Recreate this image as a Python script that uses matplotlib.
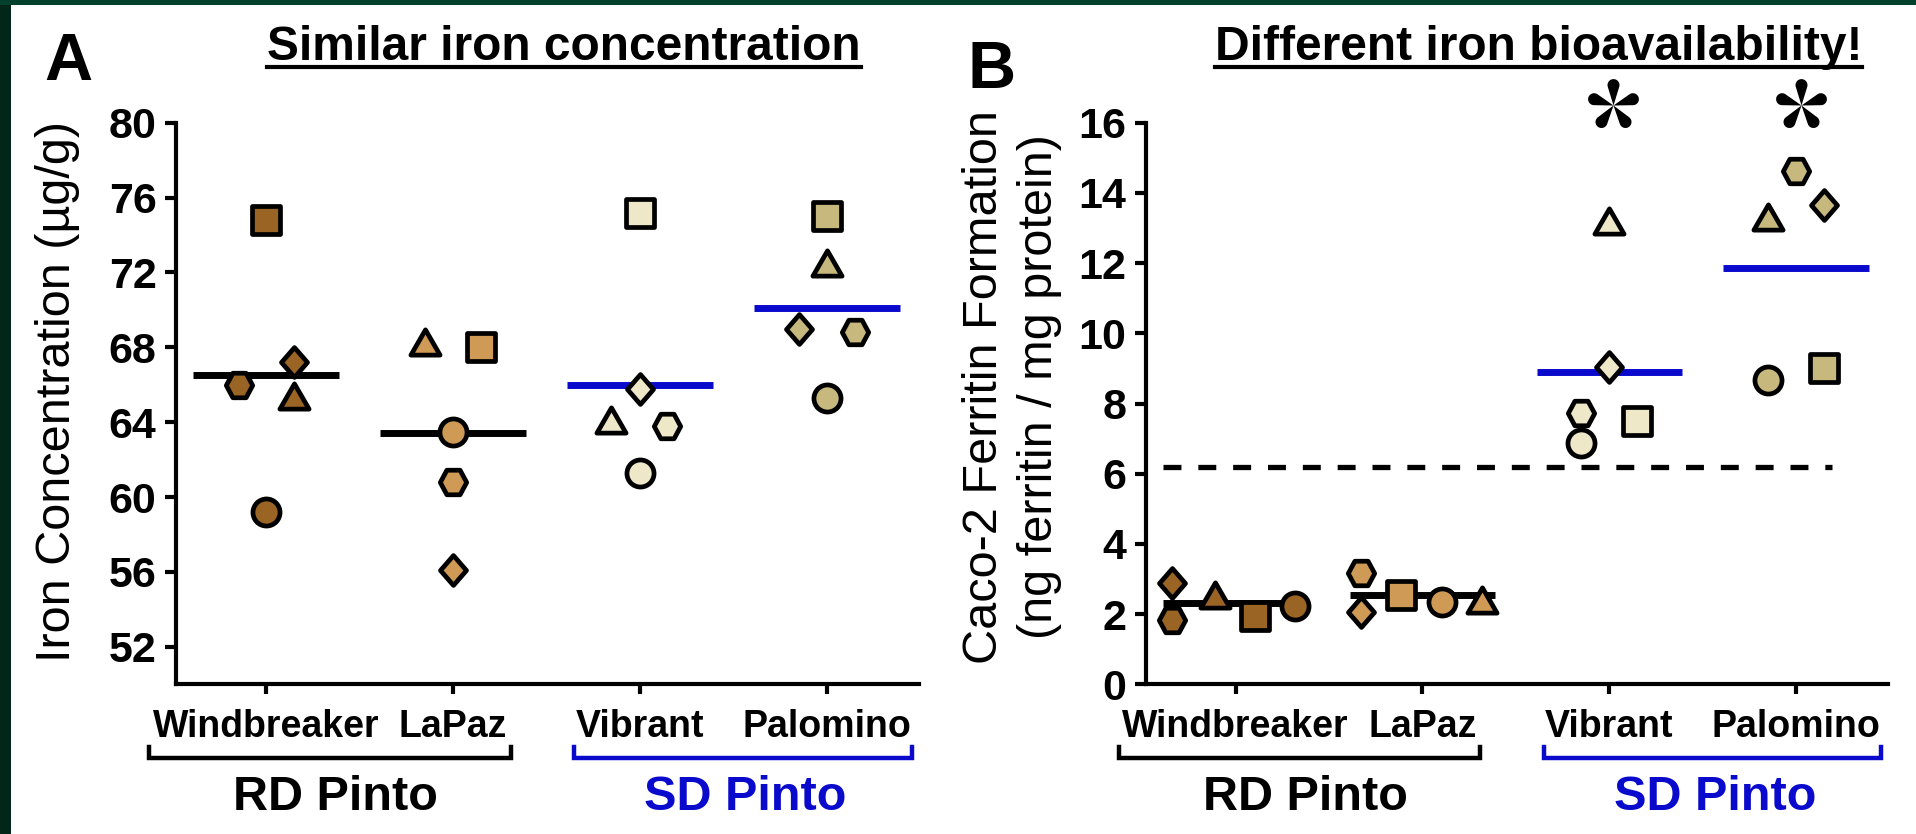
import numpy as np
import matplotlib
matplotlib.use("Agg")
import matplotlib.pyplot as plt
import matplotlib.transforms as mtransforms
from matplotlib.path import Path
from matplotlib.markers import MarkerStyle
from matplotlib.patches import Rectangle
from matplotlib.lines import Line2D

plt.rcParams['font.family'] = ['Liberation Sans', 'DejaVu Sans']

# ---- data ----
varieties = ["Windbreaker", "LaPaz", "Vibrant", "Palomino"]
groups = ["RD Pinto", "SD Pinto"]
# replicate order: square, hexagon, diamond, triangle, circle
iron_windbreaker = [74.8, 66.0, 67.2, 65.4, 59.2]
iron_lapaz = [68.0, 60.8, 56.1, 68.3, 63.5]
iron_vibrant = [75.2, 63.8, 65.8, 64.1, 61.3]
iron_palomino = [75.0, 68.8, 69.0, 72.5, 65.3]
iron_means = [66.5, 63.4, 66.0, 70.1]

ferritin_windbreaker = [1.95, 1.83, 2.89, 2.54, 2.23]
ferritin_lapaz = [2.54, 3.18, 2.07, 2.40, 2.35]
ferritin_vibrant = [7.51, 7.72, 9.05, 13.2, 6.88]
ferritin_palomino = [9.0, 14.63, 13.65, 13.3, 8.67]
ferritin_means = [2.33, 2.54, 8.91, 11.85]
ferritin_baseline = 6.2
significant = [False, False, True, True]

iron_ticks = [52, 56, 60, 64, 68, 72, 76, 80]
ferritin_ticks = [0, 2, 4, 6, 8, 10, 12, 14, 16]

# ---- styles / layout ----
colors = ["#9a6424", "#cf9a55", "#efe8c8", "#c7b97e"]
mean_colors = ["black", "black", "#0a0acd", "#0a0acd"]
group_colors = ["black", "#0a0acd"]

# horizontal scatter offsets, same replicate order as data
jitter_a = [[0, -0.145, 0.15, 0.15, 0],
            [0.15, 0, 0, -0.15, 0],
            [0, 0.147, 0, -0.157, 0],
            [0, 0.15, -0.148, 0, 0]]
jitter_b = [[0.105, -0.34, -0.34, -0.11, 0.32],
            [-0.115, -0.33, -0.33, 0.32, 0.105],
            [0.145, -0.15, 0, 0, -0.15],
            [0.146, 0, 0.146, -0.15, -0.15]]

sq = Path([(-1, -1), (1, -1), (1, 1), (-1, 1), (-1, -1)], closed=True)
hexa = Path([(1, 0), (0.5, 0.93), (-0.5, 0.93), (-1, 0), (-0.5, -0.93), (0.5, -0.93), (1, 0)], closed=True)
dia = Path([(0, 1), (0.87, 0), (0, -1), (-0.87, 0), (0, 1)], closed=True)
tri = Path([(0, 0.75), (-0.866, -0.75), (0.866, -0.75), (0, 0.75)], closed=True)
shapes = [sq, hexa, dia, tri, "o"]
shape_sizes = [19.5, 19.0, 21.5, 21.0, 19.5]


def petal_star(n=5, d=0.75, r=0.22):
    # asterisk made of teardrop petals, one pointing straight up
    alpha = np.arcsin(r / d)
    arc = np.linspace(np.pi / 2 + alpha, -(np.pi / 2 + alpha), 40)
    local = np.column_stack([d + r * np.cos(arc), r * np.sin(arc)])
    local = np.vstack([[0, 0], local, [0, 0]])
    verts, codes = [], []
    for k in range(n):
        a = np.pi / 2 + k * 2 * np.pi / n
        rot = np.array([[np.cos(a), -np.sin(a)], [np.sin(a), np.cos(a)]])
        pts = local @ rot.T
        verts.extend(pts)
        codes.extend([Path.MOVETO] + [Path.LINETO] * (len(pts) - 2) + [Path.CLOSEPOLY])
    return Path(np.array(verts), codes)


star = petal_star()

W, H = 1916, 834
fig = plt.figure(figsize=(W / 100, H / 100), dpi=100, facecolor="white")


def px_box(x0, y0, x1, y1):
    return [x0 / W, 1 - y1 / H, (x1 - x0) / W, (y1 - y0) / H]


ax_a = fig.add_axes(px_box(176, 122.7, 918.6, 684.3))
ax_b = fig.add_axes(px_box(1145.8, 122.7, 1888, 684.3))


def draw_panel(ax, series, jitter, means, ylim, ticks):
    for i, vals in enumerate(series):
        ax.hlines(means[i], i - 0.39, i + 0.39, color=mean_colors[i], lw=5, zorder=2)
        for k, v in enumerate(vals):
            ax.plot(i + jitter[i][k], v, ls="none", marker=MarkerStyle(shapes[k]),
                    ms=shape_sizes[k], mfc=colors[i], mec="black", mew=3.4,
                    zorder=3, clip_on=False)
    ax.set_xlim(-0.48, 3.49)
    ax.set_ylim(*ylim)
    ax.set_yticks(ticks)
    ax.set_yticklabels([str(t) for t in ticks], fontsize=31, fontweight="bold")
    ax.set_xticks(range(len(varieties)))
    ax.set_xticklabels(varieties, fontsize=27, fontweight="bold")
    for s in ["top", "right"]:
        ax.spines[s].set_visible(False)
    for s in ["left", "bottom"]:
        ax.spines[s].set_linewidth(3)
    ax.tick_params(axis="y", length=8, width=3, pad=6)
    ax.tick_params(axis="x", length=7, width=3, pad=11)

    # group brackets under the category labels
    tr = mtransforms.blended_transform_factory(ax.transData, ax.transAxes)
    spans = [(-0.625, 1.31), (1.65, 3.455)]
    centers = [0.375, 2.565]
    for g, (x0, x1) in enumerate(spans):
        ax.plot([x0, x0, x1, x1], [-0.1117, -0.131, -0.131, -0.1117], color=group_colors[g],
                lw=3.2, transform=tr, clip_on=False, solid_joinstyle="miter")
        ax.text(centers[g], -0.2237, groups[g], transform=tr, ha="center", va="baseline",
                fontsize=35, fontweight="bold", color=group_colors[g])


draw_panel(ax_a, [iron_windbreaker, iron_lapaz, iron_vibrant, iron_palomino],
           jitter_a, iron_means, (50, 80), iron_ticks)
draw_panel(ax_b, [ferritin_windbreaker, ferritin_lapaz, ferritin_vibrant, ferritin_palomino],
           jitter_b, ferritin_means, (0, 16), ferritin_ticks)

ax_b.plot([-0.39, 3.19], [ferritin_baseline, ferritin_baseline], color="black", lw=3.8,
          ls=(0, (3.4, 3.2)), dash_capstyle="butt", zorder=1)
star_x = [2.02, 3.027]
for i, sig in enumerate(significant):
    if sig:
        ax_b.plot(star_x[i - 2], 16.5, ls="none", marker=star, ms=38, mfc="black",
                  mec="none", clip_on=False)

# axis titles
fig.text(58 / W, 1 - 391 / H, "Iron Concentration (\u00b5g/g)", rotation=90,
         ha="center", va="center", fontsize=35)
fig.text(1012 / W, 1 - 387 / H, "Caco-2 Ferritin Formation\n(ng ferritin / mg protein)",
         rotation=90, ha="center", va="center", multialignment="center",
         fontsize=35, linespacing=1.3)

# panel letters and underlined headings
fig.text(44 / W, 1 - 80 / H, "A", ha="left", va="baseline", fontsize=48, fontweight="bold")
fig.text(968 / W, 1 - 88 / H, "B", ha="left", va="baseline", fontsize=48, fontweight="bold")
t_a = fig.text(564 / W, 1 - 60 / H, "Similar iron concentration", ha="center",
               va="baseline", fontsize=34.5, fontweight="bold")
t_b = fig.text(1538.5 / W, 1 - 60 / H, "Different iron bioavailability!", ha="center",
               va="baseline", fontsize=34.5, fontweight="bold")
fig.canvas.draw()
for t in (t_a, t_b):
    bb = t.get_window_extent()
    fig.add_artist(Line2D([bb.x0 / W, bb.x1 / W], [1 - 66.7 / H, 1 - 66.7 / H],
                          transform=fig.transFigure, color="black", lw=3))

# dark green frame on the left and top
fig.add_artist(Rectangle((0, 0), 11 / W, 1, transform=fig.transFigure, color="#022719", lw=0))
fig.add_artist(Rectangle((0, 1 - 5 / H), 1, 5 / H, transform=fig.transFigure, color="#03402c", lw=0))

fig.savefig("out.png", dpi=100, facecolor="white")
